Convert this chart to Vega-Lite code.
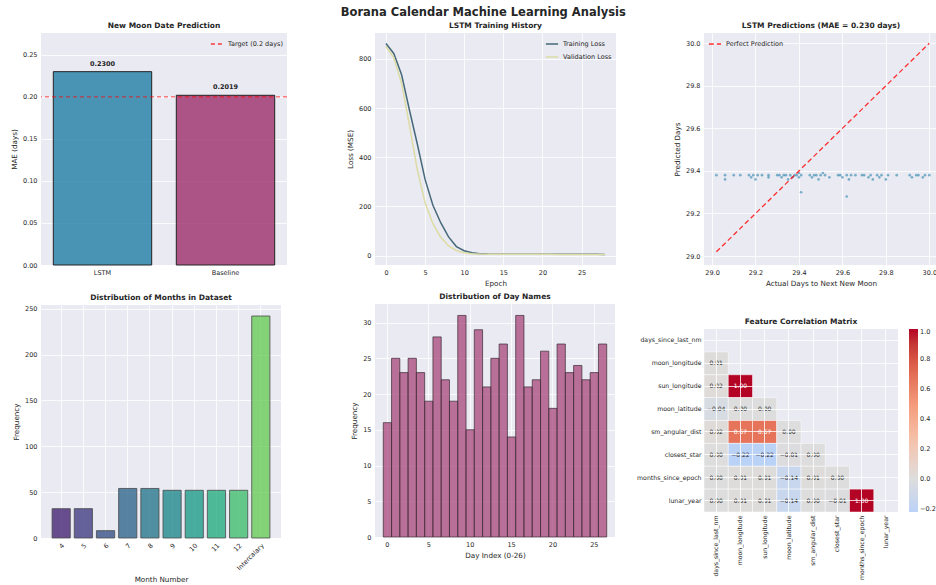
{
  "$schema": "https://vega.github.io/schema/vega-lite/v6.json",
  "padding": {"left": 10, "top": 7, "right": 0, "bottom": 0},
  "title": {"text": "Borana Calendar Machine Learning Analysis", "fontSize": 11.5, "fontWeight": "bold", "color": "#262626", "anchor": "middle", "offset": 3, "dx": 9},
  "spacing": 20,
  "resolve": {"scale": {"color": "independent", "strokeDash": "independent"}, "legend": {"color": "independent", "strokeDash": "independent"}},
  "hconcat": [
    {
      "spacing": 58,
      "resolve": {"scale": {"color": "independent", "strokeDash": "independent"}, "legend": {"color": "independent", "strokeDash": "independent"}},
      "hconcat": [
        {
          "spacing": 17,
          "resolve": {"scale": {"color": "independent", "strokeDash": "independent"}, "legend": {"color": "independent", "strokeDash": "independent"}},
          "vconcat": [
            {
              "width": 246, "height": 232,
              "title": "New Moon Date Prediction",
              "data": {"values": [{"model": "LSTM", "mae": 0.2300}, {"model": "Baseline", "mae": 0.2019}]},
              "layer": [
                {
                  "mark": {"type": "bar", "stroke": "black", "strokeWidth": 1, "opacity": 0.85, "width": {"band": 0.8}},
                  "encoding": {
                    "x": {"field": "model", "type": "nominal", "sort": null, "scale": {"domain": ["LSTM", "Baseline"], "paddingInner": 0, "paddingOuter": 0}, "axis": {"title": null, "labelAngle": 0, "grid": false}},
                    "y": {"field": "mae", "type": "quantitative", "scale": {"domain": [0, 0.276], "nice": false}, "axis": {"title": "MAE (days)", "values": [0, 0.05, 0.1, 0.15, 0.2, 0.25], "format": ".2f"}},
                    "color": {"field": "model", "type": "nominal", "scale": {"domain": ["LSTM", "Baseline"], "range": ["#2E86AB", "#A23B72"]}, "legend": null}
                  }
                },
                {
                  "mark": {"type": "text", "baseline": "bottom", "dy": -5, "fontSize": 6.5, "fontWeight": "bold", "color": "#262626"},
                  "encoding": {
                    "x": {"field": "model", "type": "nominal", "sort": null},
                    "y": {"field": "mae", "type": "quantitative"},
                    "text": {"field": "mae", "type": "quantitative", "format": ".4f"}
                  }
                },
                {
                  "data": {"values": [{"t": 0.2, "label": "Target (0.2 days)"}]},
                  "mark": {"type": "rule", "color": "red", "strokeWidth": 1, "opacity": 0.75},
                  "encoding": {
                    "y": {"field": "t", "type": "quantitative"},
                    "strokeDash": {"field": "label", "type": "nominal", "scale": {"range": [[4, 3]]}, "legend": {"title": null, "orient": "top-right", "offset": 4, "symbolStrokeColor": "red", "symbolType": "stroke", "symbolSize": 150, "labelFontSize": 6.5}}
                  }
                }
              ]
            },
            {
              "width": 240, "height": 233,
              "title": "Distribution of Months in Dataset",
              "data": {"values": [
                {"month": "4", "count": 32}, {"month": "5", "count": 32}, {"month": "6", "count": 8},
                {"month": "7", "count": 54}, {"month": "8", "count": 54}, {"month": "9", "count": 52},
                {"month": "10", "count": 52}, {"month": "11", "count": 52}, {"month": "12", "count": 52},
                {"month": "Intercalary", "count": 242}
              ]},
              "mark": {"type": "bar", "stroke": "#222222", "strokeWidth": 0.8, "opacity": 0.8},
              "encoding": {
                "x": {"field": "month", "type": "nominal", "sort": null, "scale": {"paddingInner": 0.18, "paddingOuter": 0.5}, "axis": {"title": "Month Number", "labelAngle": -45}},
                "y": {"field": "count", "type": "quantitative", "scale": {"domain": [0, 254], "nice": false}, "axis": {"title": "Frequency", "values": [0, 50, 100, 150, 200, 250]}},
                "color": {"field": "month", "type": "nominal", "sort": null, "scale": {"scheme": {"name": "viridis", "extent": [0.03, 0.85]}}, "legend": null}
              }
            }
          ]
        },
        {
          "spacing": 5,
          "resolve": {"scale": {"color": "independent", "strokeDash": "independent"}, "legend": {"color": "independent", "strokeDash": "independent"}},
          "vconcat": [
            {
              "width": 241, "height": 232,
              "title": "LSTM Training History",
              "data": {"values": [
                {"epoch": 0, "loss": 862, "set": "Training Loss"}, {"epoch": 1, "loss": 822, "set": "Training Loss"}, {"epoch": 2, "loss": 735, "set": "Training Loss"},
                {"epoch": 3, "loss": 592, "set": "Training Loss"}, {"epoch": 4, "loss": 455, "set": "Training Loss"}, {"epoch": 5, "loss": 310, "set": "Training Loss"},
                {"epoch": 6, "loss": 205, "set": "Training Loss"}, {"epoch": 7, "loss": 134, "set": "Training Loss"}, {"epoch": 8, "loss": 76, "set": "Training Loss"},
                {"epoch": 9, "loss": 37, "set": "Training Loss"}, {"epoch": 10, "loss": 20, "set": "Training Loss"}, {"epoch": 11, "loss": 12, "set": "Training Loss"},
                {"epoch": 12, "loss": 8, "set": "Training Loss"}, {"epoch": 13, "loss": 6.5, "set": "Training Loss"}, {"epoch": 14, "loss": 6, "set": "Training Loss"},
                {"epoch": 15, "loss": 5.8, "set": "Training Loss"}, {"epoch": 16, "loss": 5.6, "set": "Training Loss"}, {"epoch": 17, "loss": 5.5, "set": "Training Loss"},
                {"epoch": 18, "loss": 5.5, "set": "Training Loss"}, {"epoch": 19, "loss": 5.4, "set": "Training Loss"}, {"epoch": 20, "loss": 5.4, "set": "Training Loss"},
                {"epoch": 21, "loss": 5.3, "set": "Training Loss"}, {"epoch": 22, "loss": 5.3, "set": "Training Loss"}, {"epoch": 23, "loss": 5.3, "set": "Training Loss"},
                {"epoch": 24, "loss": 5.2, "set": "Training Loss"}, {"epoch": 25, "loss": 5.2, "set": "Training Loss"}, {"epoch": 26, "loss": 5.2, "set": "Training Loss"},
                {"epoch": 27, "loss": 5.2, "set": "Training Loss"}, {"epoch": 28, "loss": 5.1, "set": "Training Loss"},
                {"epoch": 0, "loss": 850, "set": "Validation Loss"}, {"epoch": 1, "loss": 805, "set": "Validation Loss"}, {"epoch": 2, "loss": 700, "set": "Validation Loss"},
                {"epoch": 3, "loss": 530, "set": "Validation Loss"}, {"epoch": 4, "loss": 350, "set": "Validation Loss"}, {"epoch": 5, "loss": 215, "set": "Validation Loss"},
                {"epoch": 6, "loss": 130, "set": "Validation Loss"}, {"epoch": 7, "loss": 75, "set": "Validation Loss"}, {"epoch": 8, "loss": 40, "set": "Validation Loss"},
                {"epoch": 9, "loss": 21, "set": "Validation Loss"}, {"epoch": 10, "loss": 12, "set": "Validation Loss"}, {"epoch": 11, "loss": 8, "set": "Validation Loss"},
                {"epoch": 12, "loss": 6.5, "set": "Validation Loss"}, {"epoch": 13, "loss": 6, "set": "Validation Loss"}, {"epoch": 14, "loss": 5.7, "set": "Validation Loss"},
                {"epoch": 15, "loss": 5.5, "set": "Validation Loss"}, {"epoch": 16, "loss": 5.4, "set": "Validation Loss"}, {"epoch": 17, "loss": 5.3, "set": "Validation Loss"},
                {"epoch": 18, "loss": 5.3, "set": "Validation Loss"}, {"epoch": 19, "loss": 5.2, "set": "Validation Loss"}, {"epoch": 20, "loss": 5.2, "set": "Validation Loss"},
                {"epoch": 21, "loss": 5.2, "set": "Validation Loss"}, {"epoch": 22, "loss": 5.1, "set": "Validation Loss"}, {"epoch": 23, "loss": 5.1, "set": "Validation Loss"},
                {"epoch": 24, "loss": 5.1, "set": "Validation Loss"}, {"epoch": 25, "loss": 5.1, "set": "Validation Loss"}, {"epoch": 26, "loss": 5.0, "set": "Validation Loss"},
                {"epoch": 27, "loss": 5.0, "set": "Validation Loss"}, {"epoch": 28, "loss": 5.0, "set": "Validation Loss"}
              ]},
              "mark": {"type": "line", "strokeWidth": 1.5},
              "encoding": {
                "x": {"field": "epoch", "type": "quantitative", "scale": {"domain": [-1.4, 29.4], "nice": false}, "axis": {"title": "Epoch", "values": [0, 5, 10, 15, 20, 25]}},
                "y": {"field": "loss", "type": "quantitative", "scale": {"domain": [-38, 905], "nice": false}, "axis": {"title": "Loss (MSE)", "values": [0, 200, 400, 600, 800]}},
                "color": {"field": "set", "type": "nominal", "scale": {"domain": ["Training Loss", "Validation Loss"], "range": ["#46697a", "#dcdca4"]}, "legend": {"title": null, "orient": "top-right", "offset": 4, "symbolType": "stroke", "symbolSize": 150, "symbolStrokeWidth": 1.5, "labelFontSize": 6.5}}
              }
            },
            {
              "width": 240, "height": 233,
              "title": "Distribution of Day Names",
              "data": {"values": [
                {"day": 0, "count": 16}, {"day": 1, "count": 25}, {"day": 2, "count": 23}, {"day": 3, "count": 25},
                {"day": 4, "count": 23}, {"day": 5, "count": 19}, {"day": 6, "count": 28}, {"day": 7, "count": 22},
                {"day": 8, "count": 19}, {"day": 9, "count": 31}, {"day": 10, "count": 15}, {"day": 11, "count": 29},
                {"day": 12, "count": 21}, {"day": 13, "count": 25}, {"day": 14, "count": 27}, {"day": 15, "count": 14},
                {"day": 16, "count": 31}, {"day": 17, "count": 21}, {"day": 18, "count": 22}, {"day": 19, "count": 26},
                {"day": 20, "count": 18}, {"day": 21, "count": 27}, {"day": 22, "count": 23}, {"day": 23, "count": 24},
                {"day": 24, "count": 22}, {"day": 25, "count": 23}, {"day": 26, "count": 27}
              ]},
              "mark": {"type": "bar", "color": "#A23B72", "fillOpacity": 0.7, "stroke": "#3a2a33", "strokeWidth": 0.7},
              "encoding": {
                "x": {"field": "day", "type": "ordinal", "scale": {"paddingInner": 0, "paddingOuter": 1.05}, "axis": {"title": "Day Index (0-26)", "labelAngle": 0, "values": [0, 5, 10, 15, 20, 25]}},
                "y": {"field": "count", "type": "quantitative", "scale": {"domain": [0, 32.6], "nice": false}, "axis": {"title": "Frequency", "values": [0, 5, 10, 15, 20, 25, 30]}}
              }
            }
          ]
        }
      ]
    },
    {
      "spacing": 30,
      "resolve": {"scale": {"color": "independent", "strokeDash": "independent"}, "legend": {"color": "independent", "strokeDash": "independent"}},
      "vconcat": [
        {
          "width": 234, "height": 232,
          "title": "LSTM Predictions (MAE = 0.230 days)",
          "layer": [
            {
              "data": {"values": [
                {"actual": 29.02, "predicted": 29.38}, {"actual": 29.06, "predicted": 29.38}, {"actual": 29.06, "predicted": 29.36},
                {"actual": 29.10, "predicted": 29.38}, {"actual": 29.13, "predicted": 29.38}, {"actual": 29.17, "predicted": 29.38},
                {"actual": 29.18, "predicted": 29.37}, {"actual": 29.19, "predicted": 29.38}, {"actual": 29.20, "predicted": 29.36},
                {"actual": 29.21, "predicted": 29.38}, {"actual": 29.23, "predicted": 29.38}, {"actual": 29.26, "predicted": 29.38},
                {"actual": 29.26, "predicted": 29.37}, {"actual": 29.30, "predicted": 29.38}, {"actual": 29.31, "predicted": 29.38},
                {"actual": 29.32, "predicted": 29.37}, {"actual": 29.33, "predicted": 29.38}, {"actual": 29.34, "predicted": 29.38},
                {"actual": 29.35, "predicted": 29.36}, {"actual": 29.36, "predicted": 29.38}, {"actual": 29.37, "predicted": 29.37},
                {"actual": 29.38, "predicted": 29.38}, {"actual": 29.39, "predicted": 29.38}, {"actual": 29.40, "predicted": 29.39},
                {"actual": 29.40, "predicted": 29.37}, {"actual": 29.41, "predicted": 29.38}, {"actual": 29.41, "predicted": 29.30},
                {"actual": 29.45, "predicted": 29.38}, {"actual": 29.46, "predicted": 29.37}, {"actual": 29.47, "predicted": 29.38},
                {"actual": 29.48, "predicted": 29.38}, {"actual": 29.49, "predicted": 29.36}, {"actual": 29.50, "predicted": 29.38},
                {"actual": 29.51, "predicted": 29.39}, {"actual": 29.52, "predicted": 29.38}, {"actual": 29.54, "predicted": 29.37},
                {"actual": 29.58, "predicted": 29.38}, {"actual": 29.59, "predicted": 29.38}, {"actual": 29.60, "predicted": 29.37},
                {"actual": 29.62, "predicted": 29.38}, {"actual": 29.62, "predicted": 29.28}, {"actual": 29.63, "predicted": 29.36},
                {"actual": 29.64, "predicted": 29.38}, {"actual": 29.66, "predicted": 29.38}, {"actual": 29.69, "predicted": 29.38},
                {"actual": 29.70, "predicted": 29.38}, {"actual": 29.72, "predicted": 29.37}, {"actual": 29.73, "predicted": 29.38},
                {"actual": 29.74, "predicted": 29.36}, {"actual": 29.76, "predicted": 29.38}, {"actual": 29.77, "predicted": 29.37},
                {"actual": 29.78, "predicted": 29.38}, {"actual": 29.80, "predicted": 29.36}, {"actual": 29.81, "predicted": 29.38},
                {"actual": 29.85, "predicted": 29.38}, {"actual": 29.91, "predicted": 29.38}, {"actual": 29.92, "predicted": 29.37},
                {"actual": 29.94, "predicted": 29.38}, {"actual": 29.95, "predicted": 29.38}, {"actual": 29.97, "predicted": 29.37},
                {"actual": 29.98, "predicted": 29.38}, {"actual": 30.00, "predicted": 29.38}
              ]},
              "mark": {"type": "circle", "size": 7, "opacity": 0.6, "color": "#2E86AB"},
              "encoding": {
                "x": {"field": "actual", "type": "quantitative", "scale": {"domain": [28.963, 30.04], "nice": false, "zero": false}, "axis": {"title": "Actual Days to Next New Moon", "values": [29, 29.2, 29.4, 29.6, 29.8, 30], "format": ".1f"}},
                "y": {"field": "predicted", "type": "quantitative", "scale": {"domain": [28.958, 30.048], "nice": false, "zero": false}, "axis": {"title": "Predicted Days", "values": [29, 29.2, 29.4, 29.6, 29.8, 30], "format": ".1f"}}
              }
            },
            {
              "data": {"values": [{"actual": 29.02, "predicted": 29.02, "s": "Perfect Prediction"}, {"actual": 30.0, "predicted": 30.0, "s": "Perfect Prediction"}]},
              "mark": {"type": "line", "color": "red", "strokeWidth": 1.3, "opacity": 0.8},
              "encoding": {
                "x": {"field": "actual", "type": "quantitative"},
                "y": {"field": "predicted", "type": "quantitative"},
                "strokeDash": {"field": "s", "type": "nominal", "scale": {"range": [[5, 3]]}, "legend": {"title": null, "orient": "top-left", "offset": 4, "symbolStrokeColor": "red", "symbolType": "stroke", "symbolSize": 150, "labelFontSize": 6.5}}
              }
            }
          ]
        },
        {
          "width": 194, "height": 183,
          "title": "Feature Correlation Matrix",
          "data": {"values": [
            {"row": "moon_longitude", "col": "days_since_last_nm", "r": 0.01},
            {"row": "sun_longitude", "col": "days_since_last_nm", "r": 0.02},
            {"row": "sun_longitude", "col": "moon_longitude", "r": 1.0},
            {"row": "moon_latitude", "col": "days_since_last_nm", "r": -0.04},
            {"row": "moon_latitude", "col": "moon_longitude", "r": -0.003},
            {"row": "moon_latitude", "col": "sun_longitude", "r": -0.003},
            {"row": "sm_angular_dist", "col": "days_since_last_nm", "r": 0.02},
            {"row": "sm_angular_dist", "col": "moon_longitude", "r": 0.67},
            {"row": "sm_angular_dist", "col": "sun_longitude", "r": 0.67},
            {"row": "sm_angular_dist", "col": "moon_latitude", "r": -0.003},
            {"row": "closest_star", "col": "days_since_last_nm", "r": 0.0},
            {"row": "closest_star", "col": "moon_longitude", "r": -0.22},
            {"row": "closest_star", "col": "sun_longitude", "r": -0.22},
            {"row": "closest_star", "col": "moon_latitude", "r": -0.01},
            {"row": "closest_star", "col": "sm_angular_dist", "r": 0.0},
            {"row": "months_since_epoch", "col": "days_since_last_nm", "r": 0.0},
            {"row": "months_since_epoch", "col": "moon_longitude", "r": 0.01},
            {"row": "months_since_epoch", "col": "sun_longitude", "r": 0.01},
            {"row": "months_since_epoch", "col": "moon_latitude", "r": -0.14},
            {"row": "months_since_epoch", "col": "sm_angular_dist", "r": 0.01},
            {"row": "months_since_epoch", "col": "closest_star", "r": -0.003},
            {"row": "lunar_year", "col": "days_since_last_nm", "r": 0.0},
            {"row": "lunar_year", "col": "moon_longitude", "r": 0.01},
            {"row": "lunar_year", "col": "sun_longitude", "r": 0.01},
            {"row": "lunar_year", "col": "moon_latitude", "r": -0.14},
            {"row": "lunar_year", "col": "sm_angular_dist", "r": 0.0},
            {"row": "lunar_year", "col": "closest_star", "r": -0.01},
            {"row": "lunar_year", "col": "months_since_epoch", "r": 1.0}
          ]},
          "encoding": {
            "x": {"field": "col", "type": "nominal", "scale": {"domain": ["days_since_last_nm", "moon_longitude", "sun_longitude", "moon_latitude", "sm_angular_dist", "closest_star", "months_since_epoch", "lunar_year"], "paddingInner": 0, "paddingOuter": 0}, "axis": {"title": null, "labelAngle": -90, "labelPadding": 3, "labelFontSize": 6.2}},
            "y": {"field": "row", "type": "nominal", "scale": {"domain": ["days_since_last_nm", "moon_longitude", "sun_longitude", "moon_latitude", "sm_angular_dist", "closest_star", "months_since_epoch", "lunar_year"], "paddingInner": 0, "paddingOuter": 0}, "axis": {"title": null, "labelPadding": 3, "labelFontSize": 6.2}}
          },
          "layer": [
            {
              "mark": {"type": "rect", "stroke": "white", "strokeWidth": 0.5},
              "encoding": {
                "color": {"field": "r", "type": "quantitative", "scale": {"domain": [-0.22, 0, 0.25, 0.5, 0.75, 1], "range": ["#bbd2f7", "#dddddd", "#f5c4ad", "#f49a7b", "#de614d", "#b40426"]}, "legend": {"title": null, "orient": "right", "offset": 11, "gradientLength": 183, "gradientThickness": 9, "gradientStrokeWidth": 0, "values": [-0.2, 0, 0.2, 0.4, 0.6, 0.8, 1.0], "format": ".1f", "labelFontSize": 6.5, "labelOverlap": false}}
              }
            },
            {
              "mark": {"type": "text", "fontSize": 6},
              "encoding": {
                "text": {"field": "r", "type": "quantitative", "format": ".2f"},
                "color": {"condition": {"test": "abs(datum.r) > 0.5", "value": "white"}, "value": "#262626"}
              }
            }
          ],
          "resolve": {"scale": {"color": "independent"}}
        }
      ]
    }
  ],
  "config": {
    "font": "DejaVu Sans",
    "background": "white",
    "view": {"fill": "#EAEAF2", "stroke": null},
    "axis": {"domain": false, "ticks": false, "grid": true, "gridColor": "#ffffff", "gridWidth": 0.8, "labelFontSize": 6.5, "labelColor": "#262626", "titleFontSize": 7.2, "titleFontWeight": "normal", "titleColor": "#262626", "labelPadding": 4, "titlePadding": 4},
    "title": {"fontSize": 7.5, "fontWeight": "bold", "color": "#262626", "offset": 4},
    "legend": {"labelColor": "#262626", "labelFontSize": 6.5}
  }
}
